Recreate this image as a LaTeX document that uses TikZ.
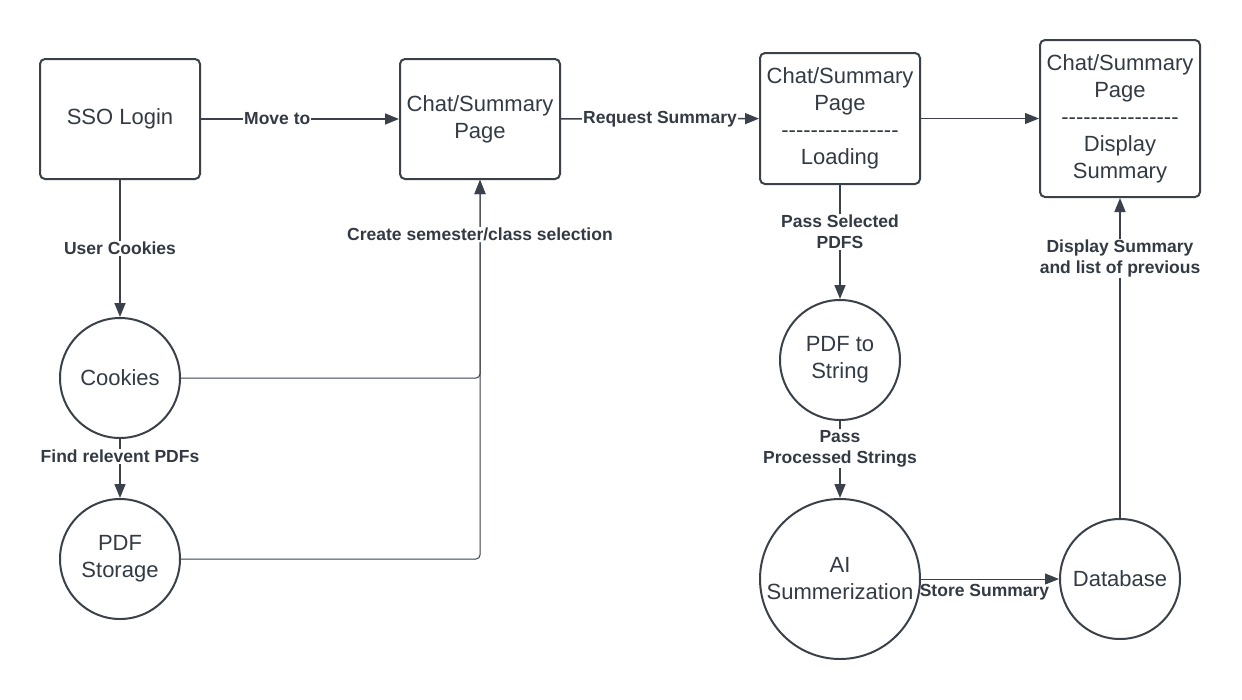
\documentclass[tikz,border=0pt]{standalone}
\usepackage{fontspec}
\newfontfamily\lsans{Liberation Sans}
\usetikzlibrary{arrows.meta}
\definecolor{ln}{HTML}{3A414A}
\definecolor{tx}{HTML}{333A44}
\tikzset{
  box/.style={draw=ln, line width=2pt, rounded corners=5pt, minimum width=160pt, minimum height=120pt, align=center, text=tx, font=\lsans\fontsize{22}{27}\selectfont, inner sep=0pt},
  circ/.style={draw=ln, line width=2pt, circle, minimum size=120pt, align=center, text=tx, font=\lsans\fontsize{22}{27}\selectfont, inner sep=0pt},
  conn/.style={draw=ln, line width=1.6pt, -{Triangle[length=14pt,width=11pt]}},
  thinconn/.style={draw=ln, line width=1pt, -{Triangle[length=14pt,width=11pt]}},
  lab/.style={fill=white, text=tx, font=\lsans\bfseries\fontsize{17.5}{21}\selectfont, align=center, inner sep=1pt}
}
\begin{document}
\begin{tikzpicture}[x=1pt,y=-1pt]
\useasboundingbox (0,0) rectangle (1242,699);
\node[box] (sso) at (120,119) {SSO Login};
\node[box] (chat1) at (480,119) {Chat/Summary\\Page};
\node[box, minimum height=131pt] (load) at (840,118.5) {Chat/Summary\\Page\\----------------\\Loading};
\node[box, minimum height=157pt] (disp) at (1120,118.5) {Chat/Summary\\Page\\----------------\\Display\\Summary};
\node[circ] (cook) at (120,378) {Cookies};
\node[circ] (pdfs) at (120,559) {PDF\\Storage};
\node[circ] (p2s) at (840,360) {PDF to\\String};
\node[circ, minimum size=160pt] (ai) at (840,579) {AI\\Summerization};
\node[circ] (db) at (1120,579) {Database};

\draw[conn] (sso) -- node[lab, pos=0.385] {Move to} (chat1);
\draw[conn] (chat1) -- node[lab, pos=0.5] {Request Summary} (load);
\draw[thinconn] (load) -- (disp);
\draw[conn] (sso) -- node[lab] {User Cookies} (cook);
\draw[conn] (cook) -- node[lab, pos=0.3] {Find relevent PDFs} (pdfs);
\draw[thinconn, rounded corners=4pt] (cook) -| (chat1.south);
\draw[thinconn, rounded corners=4pt] (pdfs) -| node[lab, pos=0.928] {Create semester/class selection} (chat1.south);
\draw[conn] (load) -- node[lab, pos=0.41] {Pass Selected\\PDFS} (p2s);
\draw[conn] (p2s) -- node[lab, pos=0.36] {Pass\\Processed Strings} (ai);
\draw[thinconn] (ai) -- node[lab, below=4pt, pos=0.46, fill=none] {Store Summary} (db);
\draw[conn] (db) -- node[lab, pos=0.81] {Display Summary\\and list of previous} (disp);
\end{tikzpicture}
\end{document}
